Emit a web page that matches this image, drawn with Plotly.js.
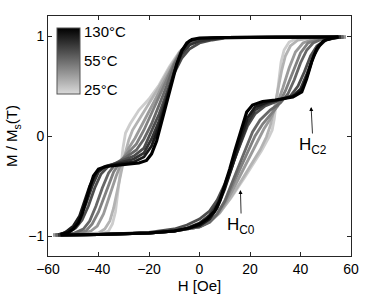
<!DOCTYPE html>
<html><head><meta charset="utf-8">
<script src="https://cdn.plot.ly/plotly-3.0.1.min.js"></script>
<style>html,body{margin:0;padding:0;background:#fff}#chart{width:374px;height:294px}</style>
</head><body><div id="chart"></div>
<script>
// Temperatures (°C) of the loops, light -> dark
const temps = [25, 30, 35, 40, 55, 70, 90, 110, 130];
const xTicks = [-60, -40, -20, 0, 20, 40, 60];
const yTicks = [-1, 0, 1];
const cbLabels = ['25°C', '55°C', '130°C'];

// Descending branches (H in Oe, M / Ms)
const d25H = [58, 30, 10, 0, -4, -8, -12, -16, -20, -24, -27.5, -29.3, -30.3, -31.3, -32.3, -33.3, -34.5, -36, -39, -45, -58];
const d25M = [0.99, 0.99, 0.985, 0.97, 0.94, 0.84, 0.69, 0.51, 0.37, 0.26, 0.12, 0.03, -0.12, -0.35, -0.58, -0.76, -0.88, -0.95, -0.98, -0.99, -0.99];
const d30H = [58, 30, 10, 0, -4, -8, -12, -16, -20, -24, -26.5, -28, -29.5, -31, -32.5, -34, -35.5, -37.5, -40, -46, -58];
const d30M = [0.99, 0.99, 0.985, 0.97, 0.94, 0.835, 0.67, 0.49, 0.33, 0.17, 0.06, -0.04, -0.18, -0.36, -0.55, -0.72, -0.85, -0.93, -0.97, -0.985, -0.99];
const d35H = [58, 30, 10, 0, -4, -8, -11, -14, -17, -20, -23, -25.5, -28, -30.5, -33, -35.5, -38, -40.5, -43, -48, -57];
const d35M = [0.99, 0.99, 0.985, 0.97, 0.94, 0.83, 0.69, 0.54, 0.39, 0.24, 0.1, -0.02, -0.12, -0.24, -0.4, -0.6, -0.78, -0.9, -0.95, -0.98, -0.99];
const d40H = [57, 30, 10, 0, -4, -7, -10, -13, -16, -19, -22, -25, -28, -31, -34, -37, -40, -42.5, -45, -50, -57];
const d40M = [0.99, 0.99, 0.985, 0.97, 0.94, 0.86, 0.73, 0.56, 0.39, 0.22, 0.06, -0.08, -0.16, -0.24, -0.36, -0.55, -0.76, -0.88, -0.95, -0.98, -0.99];
const d55H = [57, 30, 10, 0, -4, -7, -10, -13, -16, -19, -22, -25, -29, -33, -36, -38.5, -41, -43.5, -46, -50, -57];
const d55M = [0.99, 0.99, 0.985, 0.97, 0.94, 0.86, 0.71, 0.5, 0.3, 0.12, -0.03, -0.14, -0.21, -0.27, -0.37, -0.52, -0.7, -0.85, -0.93, -0.975, -0.99];
const d70H = [56, 30, 10, 5, 0, -4, -7, -10, -13, -16, -19, -22, -26, -31, -36, -39, -41.5, -44, -46.5, -49, -52, -56];
const d70M = [0.99, 0.99, 0.98, 0.96, 0.93, 0.87, 0.78, 0.63, 0.43, 0.22, 0.05, -0.12, -0.2, -0.25, -0.3, -0.38, -0.52, -0.7, -0.84, -0.92, -0.965, -0.985];
const d90H = [56, 30, 10, 5, 0, -4, -7, -10, -13, -16, -19, -22, -26, -31, -37, -40, -42.5, -45, -47.5, -50, -53, -56];
const d90M = [0.99, 0.99, 0.985, 0.97, 0.95, 0.91, 0.82, 0.64, 0.4, 0.15, -0.03, -0.17, -0.23, -0.26, -0.3, -0.36, -0.5, -0.68, -0.83, -0.92, -0.965, -0.985];
const d110H = [55, 30, 10, 0, -4, -7, -10, -13, -16, -19, -22, -26, -32, -38, -41, -43.5, -45.5, -47.5, -50, -53, -55];
const d110M = [0.99, 0.99, 0.985, 0.975, 0.95, 0.855, 0.64, 0.36, 0.1, -0.1, -0.21, -0.26, -0.28, -0.31, -0.37, -0.5, -0.66, -0.8, -0.9, -0.96, -0.985];
const d130H = [55, 30, 10, 0, -3, -5, -7, -9, -11, -13, -15, -17, -19, -21, -24, -30, -37, -40, -42, -43.5, -45, -46.5, -48, -50, -52, -55];
const d130M = [0.99, 0.99, 0.985, 0.98, 0.965, 0.93, 0.85, 0.72, 0.53, 0.32, 0.13, -0.05, -0.18, -0.245, -0.27, -0.285, -0.305, -0.33, -0.4, -0.52, -0.66, -0.78, -0.87, -0.93, -0.965, -0.985];

// Ascending branches
const u25H = [-58, -40, -20, -10, 0, 3, 7.5, 12.5, 18, 24.5, 27.5, 28.8, 29.6, 30.4, 31.3, 32.3, 33.5, 35.5, 39, 45, 58];
const u25M = [-0.99, -0.985, -0.97, -0.95, -0.91, -0.87, -0.78, -0.62, -0.41, -0.15, -0.01, 0.06, 0.17, 0.35, 0.56, 0.74, 0.86, 0.94, 0.98, 0.99, 0.99];
const u30H = [-58, -40, -20, -10, 0, 4, 8, 12, 16, 20, 24, 26.5, 28, 29.5, 31, 32.5, 34, 36, 39, 45, 58];
const u30M = [-0.99, -0.985, -0.97, -0.95, -0.91, -0.86, -0.77, -0.63, -0.47, -0.31, -0.14, -0.01, 0.1, 0.26, 0.45, 0.65, 0.8, 0.9, 0.96, 0.985, 0.99];
const u35H = [-58, -40, -20, -10, 0, 4, 8, 11, 14, 17, 20, 23, 25.5, 28, 30.5, 33, 35.5, 38, 41, 46, 57];
const u35M = [-0.99, -0.985, -0.97, -0.95, -0.91, -0.86, -0.76, -0.64, -0.5, -0.35, -0.2, -0.04, 0.07, 0.17, 0.3, 0.48, 0.68, 0.84, 0.93, 0.975, 0.99];
const u40H = [-57, -40, -20, -10, 0, 4, 7, 10, 13, 16, 19, 22, 25, 28, 31, 34, 37, 40, 43, 48, 57];
const u40M = [-0.99, -0.985, -0.97, -0.95, -0.91, -0.86, -0.78, -0.66, -0.5, -0.33, -0.16, 0.0, 0.12, 0.21, 0.3, 0.45, 0.65, 0.83, 0.93, 0.975, 0.99];
const u55H = [-57, -40, -20, -10, 0, 4, 7, 10, 13, 16, 19, 21, 24, 28, 32, 35, 37.5, 40, 42.5, 45, 49, 57];
const u55M = [-0.99, -0.985, -0.97, -0.95, -0.91, -0.86, -0.78, -0.65, -0.46, -0.27, -0.08, 0.04, 0.16, 0.26, 0.33, 0.42, 0.56, 0.73, 0.86, 0.93, 0.975, 0.99];
const u70H = [-56, -40, -20, -10, -5, 0, 4, 7, 10, 13, 16, 19, 22, 26, 31, 36, 39, 41.5, 44, 46.5, 50, 56];
const u70M = [-0.99, -0.985, -0.965, -0.93, -0.89, -0.83, -0.75, -0.64, -0.48, -0.28, -0.08, 0.1, 0.22, 0.3, 0.35, 0.4, 0.5, 0.64, 0.8, 0.9, 0.965, 0.99];
const u90H = [-56, -40, -20, -10, -5, 0, 4, 7, 10, 13, 16, 19, 22, 26, 31, 37, 40, 42.5, 45, 47.5, 50, 56];
const u90M = [-0.99, -0.985, -0.97, -0.95, -0.92, -0.87, -0.79, -0.68, -0.51, -0.3, -0.07, 0.13, 0.26, 0.32, 0.36, 0.4, 0.47, 0.62, 0.79, 0.9, 0.96, 0.99];
const u110H = [-55, -40, -20, -10, 0, 4, 7, 10, 13, 16, 19, 22, 27, 33, 38, 41, 43, 45, 47, 50, 55];
const u110M = [-0.99, -0.985, -0.97, -0.95, -0.9, -0.83, -0.72, -0.53, -0.3, -0.04, 0.18, 0.29, 0.34, 0.37, 0.41, 0.49, 0.63, 0.79, 0.9, 0.96, 0.99];
const u130H = [-55, -40, -20, -10, -4, 0, 3, 6, 8, 10, 12, 14, 15.5, 17, 18.7, 21, 25, 30, 37, 40.5, 42.4, 44.4, 46.4, 49, 53, 55];
const u130M = [-0.99, -0.985, -0.97, -0.95, -0.92, -0.88, -0.83, -0.75, -0.65, -0.5, -0.33, -0.15, -0.03, 0.1, 0.24, 0.31, 0.345, 0.36, 0.39, 0.44, 0.57, 0.74, 0.87, 0.95, 0.985, 0.99];

const loops = [
  [d25H, d25M, u25H, u25M], [d30H, d30M, u30H, u30M], [d35H, d35M, u35H, u35M],
  [d40H, d40M, u40H, u40M], [d55H, d55M, u55H, u55M], [d70H, d70M, u70H, u70M],
  [d90H, d90M, u90H, u90M], [d110H, d110M, u110H, u110M], [d130H, d130M, u130H, u130M]
];

const traces = [];
const n = loops.length;
loops.forEach((L, i) => {
  const g = Math.round(205 * (1 - i / (n - 1)));
  const col = 'rgb(' + g + ',' + g + ',' + g + ')';
  const w = i === n - 1 ? 3.2 : 2.8;
  traces.push({x: L[0], y: L[1], type: 'scatter', mode: 'lines', line: {color: col, width: w},
    hoverinfo: 'skip', showlegend: false, name: temps[i] + '°C down'});
  traces.push({x: L[2], y: L[3], type: 'scatter', mode: 'lines', line: {color: col, width: w},
    hoverinfo: 'skip', showlegend: false, name: temps[i] + '°C up'});
});

// colour bar legend
traces.push({x: [null, null], y: [null, null], type: 'scatter', mode: 'markers', hoverinfo: 'skip', showlegend: false,
  marker: {color: [0, 1], cmin: 0, cmax: 1, size: 1,
    colorscale: [[0, 'rgb(218,218,218)'], [1, 'rgb(0,0,0)']], showscale: true,
    colorbar: {x: 0.03, xanchor: 'left', y: 0.95, yanchor: 'top', len: 66, lenmode: 'pixels',
      thickness: 23, thicknessmode: 'pixels', xpad: 0, ypad: 0, outlinewidth: 1, outlinecolor: '#555',
      tickvals: [0.06, 0.5, 0.94], ticktext: cbLabels, ticks: '', ticklen: 0,
      tickfont: {size: 15, color: '#000', family: 'Liberation Sans, Arial, sans-serif'}}}});

const axisCommon = {showline: true, linecolor: '#262626', linewidth: 1, mirror: 'ticks', ticks: 'inside',
  ticklen: 4, tickcolor: '#262626', showgrid: false, zeroline: false,
  tickfont: {size: 14, color: '#000'}};

const layout = {
  width: 374, height: 294, margin: {l: 48, r: 23, t: 16, b: 38},
  paper_bgcolor: '#fff', plot_bgcolor: '#fff',
  font: {family: 'Liberation Sans, Arial, sans-serif', size: 14, color: '#000'},
  xaxis: Object.assign({}, axisCommon, {range: [-60, 60], tickvals: xTicks,
    title: {text: 'H [Oe]', font: {size: 15}, standoff: 0}}),
  yaxis: Object.assign({}, axisCommon, {range: [-1.2, 1.2], tickvals: yTicks,
    title: {text: 'M / M<sub>s</sub>(T)', font: {size: 15}, standoff: 6}}),
  annotations: [
    {x: 44.2, y: 0.29, xref: 'x', yref: 'y', text: 'H<sub>C2</sub>', showarrow: true, arrowhead: 2,
      arrowsize: 1, arrowwidth: 0.8, arrowcolor: '#000', ax: 2, ay: 39, font: {size: 17, color: '#000'}},
    {x: 16.2, y: -0.54, xref: 'x', yref: 'y', text: 'H<sub>C0</sub>', showarrow: true, arrowhead: 2,
      arrowsize: 1, arrowwidth: 0.8, arrowcolor: '#000', ax: 1, ay: 36, font: {size: 17, color: '#000'}}
  ]
};

Plotly.newPlot('chart', traces, layout, {displayModeBar: false, staticPlot: true});
</script>
</body></html>
